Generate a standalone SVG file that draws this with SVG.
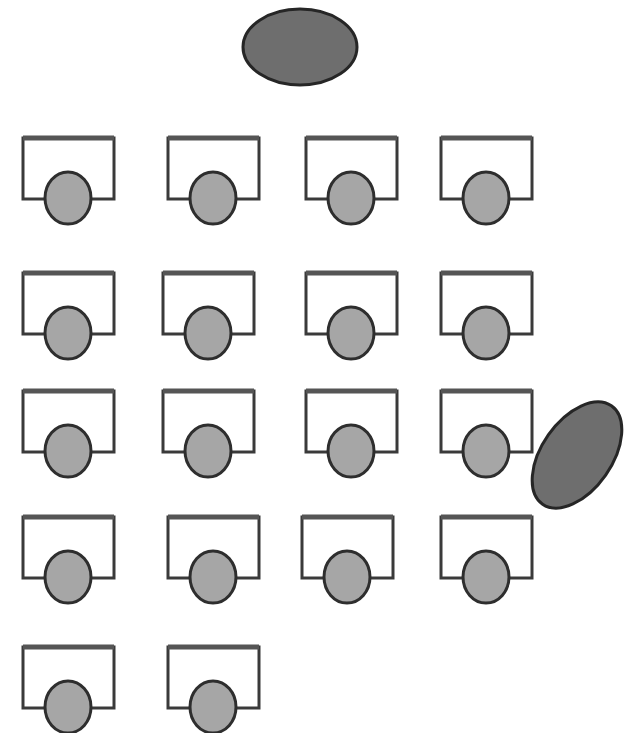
<svg xmlns="http://www.w3.org/2000/svg" width="625" height="733" viewBox="0 0 625 733">
<style>
.desk{fill:#fff;stroke:#3a3a3a;stroke-width:3}
.top{stroke:#555;stroke-width:5}
.chair{fill:#a6a6a6;stroke:#2e2e2e;stroke-width:3}
.big{fill:#6e6e6e;stroke:#262626;stroke-width:3}
</style>
<rect width="625" height="733" fill="#fff"/>
<g id="teacher"><ellipse class="big" cx="300" cy="47" rx="57" ry="38"/></g>
<g id="assistant"><ellipse class="big" cx="577" cy="455" rx="35" ry="60" transform="rotate(35 577 455)"/></g>
<defs>
<g id="seat">
<rect class="desk" x="0" y="0" width="91" height="61"/>
<line class="top" x1="0" y1="0" x2="91" y2="0"/>
<ellipse class="chair" cx="45" cy="60" rx="23" ry="26"/>
</g>
</defs>
<g id="r1c1"><use href="#seat" x="23" y="138"/></g>
<g id="r1c2"><use href="#seat" x="168" y="138"/></g>
<g id="r1c3"><use href="#seat" x="306" y="138"/></g>
<g id="r1c4"><use href="#seat" x="441" y="138"/></g>
<g id="r2c1"><use href="#seat" x="23" y="273"/></g>
<g id="r2c2"><use href="#seat" x="163" y="273"/></g>
<g id="r2c3"><use href="#seat" x="306" y="273"/></g>
<g id="r2c4"><use href="#seat" x="441" y="273"/></g>
<g id="r3c1"><use href="#seat" x="23" y="391"/></g>
<g id="r3c2"><use href="#seat" x="163" y="391"/></g>
<g id="r3c3"><use href="#seat" x="306" y="391"/></g>
<g id="r3c4"><use href="#seat" x="441" y="391"/></g>
<g id="r4c1"><use href="#seat" x="23" y="517"/></g>
<g id="r4c2"><use href="#seat" x="168" y="517"/></g>
<g id="r4c3"><use href="#seat" x="302" y="517"/></g>
<g id="r4c4"><use href="#seat" x="441" y="517"/></g>
<g id="r5c1"><use href="#seat" x="23" y="647"/></g>
<g id="r5c2"><use href="#seat" x="168" y="647"/></g>
<g id="connectors"></g>
</svg>
